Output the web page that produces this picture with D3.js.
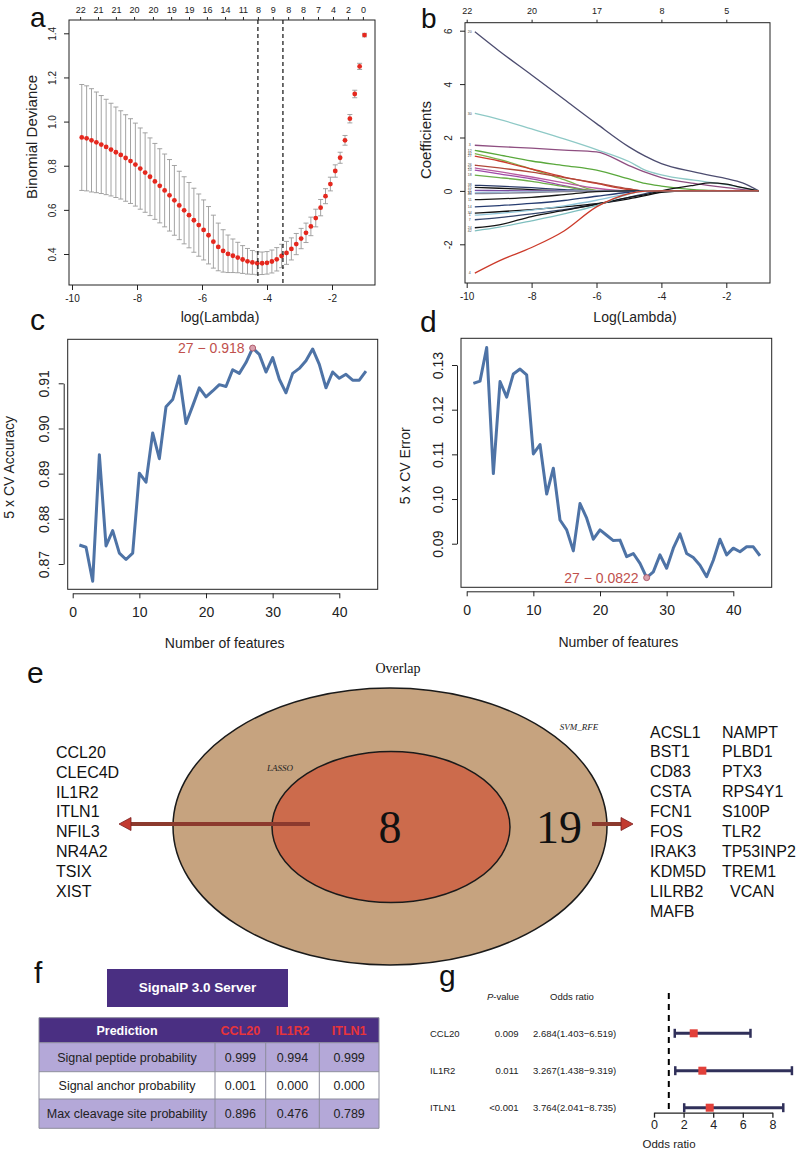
<!DOCTYPE html>
<html><head><meta charset="utf-8">
<script src="https://cdn.jsdelivr.net/npm/d3@7"></script>
<style>body{margin:0;background:#fff}svg{display:block}</style>
</head><body><svg id="fig" width="800" height="1151"></svg>
<script>
// ---------------- DATA ----------------
// (a) LASSO CV curve
const cvLogLambda = [-9.7,-9.55,-9.4,-9.25,-9.1,-8.95,-8.8,-8.65,-8.5,-8.35,-8.2,-8.05,
 -7.9,-7.75,-7.6,-7.45,-7.3,-7.15,-7.0,-6.85,-6.7,-6.55,-6.4,-6.25,
 -6.1,-5.95,-5.8,-5.65,-5.5,-5.35,-5.2,-5.05,-4.9,-4.75,-4.6,-4.45,
 -4.3,-4.15,-4.0,-3.85,-3.7,-3.55,-3.4,-3.25,-3.1,-2.95,-2.8,-2.65,
 -2.5,-2.35,-2.2,-2.05,-1.9,-1.75,-1.6,-1.45,-1.3,-1.15,-1.0];
const cvMean = [0.928,0.924,0.915,0.906,0.896,0.885,0.873,0.861,0.849,0.835,0.821,0.805,
 0.787,0.769,0.750,0.729,0.709,0.688,0.666,0.643,0.620,0.598,0.576,0.553,
 0.531,0.509,0.485,0.456,0.432,0.414,0.401,0.392,0.384,0.375,0.367,0.362,
 0.358,0.358,0.360,0.366,0.376,0.391,0.405,0.423,0.445,0.470,0.496,0.525,
 0.563,0.610,0.662,0.717,0.776,0.836,0.915,1.013,1.125,1.250,1.392];
const cvHalfWidth = [0.240,0.238,0.234,0.228,0.222,0.216,0.210,0.205,0.200,0.196,0.192,0.188,
 0.184,0.180,0.176,0.172,0.168,0.165,0.162,0.158,0.155,0.152,0.148,0.145,
 0.141,0.136,0.130,0.120,0.108,0.096,0.085,0.076,0.069,0.063,0.058,0.054,
 0.052,0.051,0.051,0.052,0.053,0.053,0.052,0.050,0.048,0.046,0.044,0.042,
 0.040,0.037,0.034,0.031,0.028,0.025,0.022,0.019,0.017,0.014,0.008];
const cvTopPos = [-9.75,-9.2,-8.65,-8.09,-7.51,-6.95,-6.4,-5.85,-5.29,-4.74,-4.28,-3.82,-3.35,-2.89,-2.43,-1.97,-1.51,-1.05];
const cvTopLab = [22,21,21,20,20,19,19,16,14,11,8,9,8,8,7,4,2,0];
const cvLambdaLines = [-4.28, -3.51];
const aXTicks = [-10,-8,-6,-4,-2];
const aYTicks = [0.4,0.6,0.8,1.0,1.2,1.4];

// (b) coefficient paths
const pathKnots = [-9.75,-9,-8,-7,-6,-5,-4.5,-4,-3,-2.5,-2,-1.5,-1];
const pathCoefs = [
 [5.96,5.24,4.34,3.43,2.52,1.65,1.30,1.02,0.71,0.58,0.46,0.30,0],
 [2.90,2.68,2.32,1.95,1.55,1.10,0.78,0.60,0.40,0.32,0.24,0.12,0],
 [1.71,1.66,1.60,1.53,1.46,0.95,0.70,0.50,0.28,0.20,0.12,0.05,0],
 [1.52,1.35,1.12,0.95,0.78,0.45,0.28,0.18,0.05,0.02,0,0,0],
 [1.40,1.18,0.82,0.42,0.02,0,0,0,0,0,0,0,0],
 [1.30,1.12,0.82,0.52,0.28,0.05,0,0,0,0,0,0,0],
 [0.96,0.86,0.70,0.50,0.30,0.08,0,0,0,0,0,0,0],
 [0.86,0.72,0.52,0.30,0.10,0,0,0,0,0,0,0,0],
 [0.78,0.64,0.45,0.20,0,0,0,0,0,0,0,0,0],
 [0.59,0.50,0.36,0.16,0,0,0,0,0,0,0,0,0],
 [0.21,0.18,0.12,0.05,0,0,0,0,0,0,0,0,0],
 [0.13,0.10,0.05,0,0,0,0,0,0,0,0,0,0],
 [0.02,0.01,0,0,0,0,0,0,0,0,0,0,0],
 [-0.06,-0.05,-0.03,-0.01,0,0,0,0,0,0,0,0,0],
 [-0.10,-0.09,-0.06,-0.03,0,0,0,0,0,0,0,0,0],
 [-0.33,-0.30,-0.24,-0.14,-0.03,0,0,0,0,0,0,0,0],
 [-0.60,-0.55,-0.47,-0.36,-0.20,-0.05,0,0,0,0,0,0,0],
 [-0.83,-0.78,-0.70,-0.60,-0.48,-0.30,-0.18,-0.05,0,0,0,0,0],
 [-0.91,-0.84,-0.72,-0.56,-0.35,-0.10,-0.02,0,0,0,0,0,0],
 [-1.08,-1.00,-0.86,-0.70,-0.50,-0.24,-0.10,0,0,0,0,0,0],
 [-1.38,-1.27,-0.96,-0.73,-0.50,-0.24,-0.14,0,0.21,0.30,0.25,0.12,0],
 [-1.50,-1.36,-1.12,-0.86,-0.55,-0.12,0,0,0,0,0,0,0],
 [-3.08,-2.62,-2.12,-1.50,-0.60,-0.10,-0.01,0,0,0,0,0,0]
];
const pathLabels = ["20","30","3","12","37","27","26","25","10","18","38","15","21","32","40","11","14","34","1","7","24","42","4"];
const pathColors = ["#4d4d70","#8ec9c6","#8e4e80","#5aa83c","#7fb54d","#cc3b2e","#b0483a","#b85aa0","#a04aa8","#6cae4a",
 "#2a3a66","#111111","#7a4aa0","#9ec3e0","#888899","#1a1a1a","#263c70","#101010","#8fc4d8","#34476e","#151515","#7fbfbf","#cc3a2a"];
const bTopPos = [-10,-8,-6,-4,-2];
const bTopLab = [22,20,17,8,5];
const bXTicks = [-10,-8,-6,-4,-2];
const bYTicks = [-2,0,2,4,6];

// (c),(d) SVM-RFE
const nFeatures = [1,2,3,4,5,6,7,8,9,10,11,12,13,14,15,16,17,18,19,20,21,22,23,24,25,26,27,28,29,30,31,32,33,34,35,36,37,38,39,40,41,42,43,44];
const cvAccuracy = [0.8742,0.8737,0.8662,0.8942,0.8740,0.8774,0.8724,0.8710,0.8724,0.8901,
 0.8881,0.8990,0.8933,0.9048,0.9064,0.9116,0.9011,0.9050,0.9090,0.9070,
 0.9083,0.9097,0.9093,0.9130,0.9122,0.9146,0.9178,0.9164,0.9125,0.9157,
 0.9109,0.9079,0.9122,0.9133,0.9150,0.9176,0.9142,0.9090,0.9125,0.9111,
 0.9120,0.9107,0.9107,0.9127];
const cvError = [0.1259,0.1264,0.1339,0.1057,0.1263,0.1228,0.1280,0.1291,0.1278,0.1101,
 0.1122,0.1011,0.1069,0.0953,0.0931,0.0884,0.0990,0.0957,0.0910,0.0931,
 0.0919,0.0907,0.0908,0.0871,0.0878,0.0856,0.0824,0.0837,0.0875,0.0845,
 0.0890,0.0922,0.0878,0.0869,0.0852,0.0826,0.0863,0.0910,0.0875,0.0890,
 0.0882,0.0893,0.0893,0.0873];
const bestN = 27;
const accLabel = "27 \u2212 0.918";
const errLabel = "27 \u2212 0.0822";
const featTicks = [0,10,20,30,40];
const accTicks = [0.87,0.88,0.89,0.90,0.91];
const errTicks = [0.09,0.10,0.11,0.12,0.13];

// (e) Venn
const vennTitle = "Overlap";
const vennSets = ["SVM_RFE","LASSO"];
const vennCounts = [19, 8];
const lassoOnlyGenes = ["CCL20","CLEC4D","IL1R2","ITLN1","NFIL3","NR4A2","TSIX","XIST"];
const svmGenesCol1 = ["ACSL1","BST1","CD83","CSTA","FCN1","FOS","IRAK3","KDM5D","LILRB2","MAFB"];
const svmGenesCol2 = ["NAMPT","PLBD1","PTX3","RPS4Y1","S100P","TLR2","TP53INP2","TREM1","VCAN"];

// (f) SignalP
const signalTitle = "SignalP 3.0 Server";
const signalCols = ["Prediction","CCL20","IL1R2","ITLN1"];
const signalRows = ["Signal peptide probability","Signal anchor probability","Max cleavage site probability"];
const signalValues = [["0.999","0.994","0.999"],["0.001","0.000","0.000"],["0.896","0.476","0.789"]];

// (g) forest
const orGenes = ["CCL20","IL1R2","ITLN1"];
const orPvalues = ["0.009","0.011","<0.001"];
const orText = ["2.684(1.403\u22126.519)","3.267(1.438\u22129.319)","3.764(2.041\u22128.735)"];
const orEst = [2.684,3.267,3.764];
const orLow = [1.403,1.438,2.041];
const orHigh = [6.519,9.319,8.735];
const orTicks = [0,2,4,6,8];

// ---------------- DRAW ----------------
const F = '"Liberation Sans", Arial, Helvetica, sans-serif';
const SERIF = '"Liberation Serif", "Times New Roman", serif';
const svg = d3.select("#fig");

function T(x, y, s, o = {}) {
  const t = svg.append("text").attr("x", x).attr("y", y).text(s)
    .attr("font-family", o.ff || F).attr("font-size", o.fs || 12)
    .attr("fill", o.fill || "#111").attr("text-anchor", o.anchor || "start");
  if (o.bold) t.attr("font-weight", "bold");
  if (o.italic) t.attr("font-style", "italic");
  if (o.rot) t.attr("transform", `rotate(${o.rot},${x},${y})`);
  return t;
}
function styleAxis(g, fs) {
  g.attr("font-family", F).attr("font-size", fs);
  g.selectAll("text").attr("fill", "#222");
  g.selectAll("line,path").attr("stroke", "#222");
}
function rotY(g, d) {
  g.selectAll(".tick text").attr("transform", "rotate(-90)").attr("x", 0).attr("y", -d).attr("dy", "0").attr("text-anchor", "middle");
}
function box(b) {
  svg.append("rect").attr("x", b.l).attr("y", b.t).attr("width", b.r - b.l).attr("height", b.b - b.t)
    .attr("fill", "none").attr("stroke", "#222").attr("stroke-width", 1);
}
const fmt = d => String(d);

// ----- panel a -----
{
  const B = {l:69, r:375, t:20, b:285};
  const x = d3.scaleLinear().domain([-10,-2]).range([72,332]);
  const y = d3.scaleLinear().domain([0.4,1.4]).range([254,33.3]);
  const g = svg.append("g");
  cvLogLambda.forEach((lx, i) => {
    const cx = x(lx), lo = y(cvMean[i] - cvHalfWidth[i]), hi = y(cvMean[i] + cvHalfWidth[i]);
    g.append("line").attr("x1", cx).attr("x2", cx).attr("y1", lo).attr("y2", hi).attr("stroke", "#9a9a9a").attr("stroke-width", 0.9);
    g.append("line").attr("x1", cx - 2.5).attr("x2", cx + 2.5).attr("y1", lo).attr("y2", lo).attr("stroke", "#9a9a9a").attr("stroke-width", 0.9);
    g.append("line").attr("x1", cx - 2.5).attr("x2", cx + 2.5).attr("y1", hi).attr("y2", hi).attr("stroke", "#9a9a9a").attr("stroke-width", 0.9);
  });
  cvLogLambda.forEach((lx, i) => {
    g.append("circle").attr("cx", x(lx)).attr("cy", y(cvMean[i])).attr("r", 2.4).attr("fill", "#e5281e");
  });
  cvLambdaLines.forEach(v => {
    g.append("line").attr("x1", x(v)).attr("x2", x(v)).attr("y1", B.t).attr("y2", B.b)
      .attr("stroke", "#222").attr("stroke-width", 1.3).attr("stroke-dasharray", "4,3");
  });
  box(B);
  const ax = svg.append("g").attr("transform", `translate(0,${B.b})`)
    .call(d3.axisBottom(x).tickValues(aXTicks).tickFormat(fmt).tickSize(5).tickPadding(5).tickSizeOuter(0));
  ax.select(".domain").remove(); styleAxis(ax, 10);
  const ay = svg.append("g").attr("transform", `translate(${B.l},0)`)
    .call(d3.axisLeft(y).tickValues(aYTicks).tickFormat(d3.format(".1f")).tickSize(5).tickSizeOuter(0));
  ay.select(".domain").remove(); styleAxis(ay, 10); rotY(ay, 13);
  const at = svg.append("g").attr("transform", `translate(0,${B.t})`)
    .call(d3.axisTop(x).tickValues(cvTopPos).tickFormat((d, i) => cvTopLab[i]).tickSize(3).tickPadding(4).tickSizeOuter(0));
  at.select(".domain").remove(); styleAxis(at, 9);
  T(220, 322, "log(Lambda)", {fs: 14, anchor: "middle", fill: "#222"});
  T(37, 137, "Binomial Deviance", {fs: 15, anchor: "middle", rot: -90, fill: "#222"});
  T(30, 27, "a", {fs: 28});
}

// ----- panel b -----
{
  const B = {l:465, r:770, t:22.7, b:283};
  const x = d3.scaleLinear().domain([-10,-2]).range([466.7,726.3]);
  const y = d3.scaleLinear().domain([-2,6]).range([244.3,30.7]);
  const line = d3.line().x(d => x(d[0])).y(d => y(d[1])).curve(d3.curveMonotoneX);
  pathCoefs.forEach((vals, i) => {
    svg.append("path").attr("d", line(pathKnots.map((k, j) => [k, vals[j]])))
      .attr("fill", "none").attr("stroke", pathColors[i]).attr("stroke-width", 1.3);
  });
  pathCoefs.forEach((vals, i) => {
    T(x(pathKnots[0]) - 5, y(vals[0]) + 1.2, pathLabels[i], {fs: 3.5, anchor: "middle", fill: "#444"});
  });
  box(B);
  const ax = svg.append("g").attr("transform", `translate(0,${B.b})`)
    .call(d3.axisBottom(x).tickValues(bXTicks).tickFormat(fmt).tickSize(5).tickPadding(5).tickSizeOuter(0));
  ax.select(".domain").remove(); styleAxis(ax, 10);
  const ay = svg.append("g").attr("transform", `translate(${B.l},0)`)
    .call(d3.axisLeft(y).tickValues(bYTicks).tickFormat(fmt).tickSize(5).tickSizeOuter(0));
  ay.select(".domain").remove(); styleAxis(ay, 10); rotY(ay, 13);
  const at = svg.append("g").attr("transform", `translate(0,${B.t})`)
    .call(d3.axisTop(x).tickValues(bTopPos).tickFormat((d, i) => bTopLab[i]).tickSize(3).tickPadding(6).tickSizeOuter(0));
  at.select(".domain").remove(); styleAxis(at, 9);
  T(635, 322, "Log(Lambda)", {fs: 14, anchor: "middle", fill: "#222"});
  T(431, 140, "Coefficients", {fs: 15, anchor: "middle", rot: -90, fill: "#222"});
  T(421, 28, "b", {fs: 28});
}

// ----- panels c & d -----
function featPanel(B, xr, yDom, yr, vals, ticks, ann, ylabX, ylabel, letter, letterPos, xlabY, dLab) {
  const x = d3.scaleLinear().domain([0,40]).range(xr);
  const y = d3.scaleLinear().domain(yDom).range(yr);
  const line = d3.line().x((d, i) => x(nFeatures[i])).y(d => y(d));
  svg.append("path").attr("d", line(vals)).attr("fill", "none").attr("stroke", "#4e73a6")
    .attr("stroke-width", 3).attr("stroke-linejoin", "round");
  box(B);
  const ax = svg.append("g").attr("transform", `translate(0,${B.b + 4})`)
    .call(d3.axisBottom(x).tickValues(featTicks).tickFormat(fmt).tickSize(5).tickPadding(9).tickSizeOuter(0));
  styleAxis(ax, 14);
  const ay = svg.append("g").attr("transform", `translate(${B.l - 4},0)`)
    .call(d3.axisLeft(y).tickValues(ticks).tickFormat(d3.format(".2f")).tickSize(5).tickSizeOuter(0));
  styleAxis(ay, 14); rotY(ay, dLab);
  const bi = nFeatures.indexOf(bestN);
  const px = x(bestN), py = y(vals[bi]);
  svg.append("circle").attr("cx", px).attr("cy", py).attr("r", 3).attr("fill", "#d9a0ad").attr("stroke", "#b05c6c").attr("stroke-width", 1);
  T(px - 8, py + 5, ann, {fs: 14, anchor: "end", fill: "#c0504d"});
  T((B.l + B.r) / 2 + 2, xlabY, "Number of features", {fs: 14, anchor: "middle", fill: "#222"});
  T(ylabX, (B.t + B.b) / 2 + 3, ylabel, {fs: 14, anchor: "middle", rot: -90, fill: "#222"});
  T(letterPos[0], letterPos[1], letter, {fs: 30});
}
featPanel({l:67.7, r:377.7, t:339.3, b:589.3}, [72.7,339.3], [0.87,0.91], [564,383.3], cvAccuracy, accTicks,
  accLabel, 14, "5 x CV Accuracy", "c", [30, 330], 648, 15);
featPanel({l:461, r:771.7, t:338.3, b:587.3}, [466.7,733.3], [0.09,0.13], [543.7,365], cvError, errTicks,
  errLabel, 410, "5 x CV Error", "d", [420, 332], 647, 14);

// ----- panel e -----
{
  T(27, 683, "e", {fs: 30});
  T(398, 673, vennTitle, {fs: 14, ff: SERIF, anchor: "middle"});
  svg.append("ellipse").attr("cx", 390).attr("cy", 826.5).attr("rx", 217).attr("ry", 138.5)
    .attr("fill", "#c6a37f").attr("stroke", "#1a1a1a").attr("stroke-width", 1.5);
  svg.append("ellipse").attr("cx", 391).attr("cy", 827).attr("rx", 119).attr("ry", 75.5)
    .attr("fill", "#cc6b4c").attr("stroke", "#1a1a1a").attr("stroke-width", 1.5);
  T(579, 730, vennSets[0], {fs: 9, ff: SERIF, italic: true, anchor: "middle", fill: "#222"});
  T(280, 771, vennSets[1], {fs: 9, ff: SERIF, italic: true, anchor: "middle", fill: "#222"});
  svg.append("line").attr("x1", 310).attr("x2", 128).attr("y1", 824).attr("y2", 824).attr("stroke", "#8c3a2e").attr("stroke-width", 4);
  svg.append("path").attr("d", "M119,824 L131,817.5 L131,830.5 Z").attr("fill", "#c23a30").attr("stroke", "#7a2020").attr("stroke-width", 0.8);
  svg.append("line").attr("x1", 592).attr("x2", 624).attr("y1", 824).attr("y2", 824).attr("stroke", "#8c3a2e").attr("stroke-width", 4);
  svg.append("path").attr("d", "M633,824 L621,817.5 L621,830.5 Z").attr("fill", "#c23a30").attr("stroke", "#7a2020").attr("stroke-width", 0.8);
  T(390, 843, String(vennCounts[1]), {fs: 46, ff: SERIF, anchor: "middle", fill: "#111"});
  T(559, 843, String(vennCounts[0]), {fs: 46, ff: SERIF, anchor: "middle", fill: "#111"});
  lassoOnlyGenes.forEach((gname, i) => T(56, 758 + i * 19.8, gname, {fs: 16, fill: "#111"}));
  svmGenesCol1.forEach((gname, i) => T(650, 737.5 + i * 19.9, gname, {fs: 16, fill: "#111"}));
  svmGenesCol2.forEach((gname, i) => T(gname === "VCAN" ? 730 : 722, 737.5 + i * 19.9, gname, {fs: 16, fill: "#111"}));
}

// ----- panel f -----
{
  T(34, 983, "f", {fs: 30});
  svg.append("rect").attr("x", 107).attr("y", 969).attr("width", 181).attr("height", 38).attr("fill", "#4a2f82");
  T(197.5, 992, signalTitle, {fs: 13.5, bold: true, anchor: "middle", fill: "#fff"});
  const xs = [39, 215, 265.7, 319.3, 379];
  const ys = [1017.7, 1042.7, 1071.7, 1099, 1128.3];
  const rowFill = ["#4a2f82", "#b4a8d8", "#ffffff", "#b4a8d8"];
  ys.slice(0, 4).forEach((y0, r) => {
    svg.append("rect").attr("x", xs[0]).attr("y", y0).attr("width", xs[4] - xs[0]).attr("height", ys[r + 1] - y0).attr("fill", rowFill[r]);
  });
  for (let r = 0; r <= 4; r++) svg.append("line").attr("x1", xs[0]).attr("x2", xs[4]).attr("y1", ys[r]).attr("y2", ys[r]).attr("stroke", "#8c8c9c").attr("stroke-width", 1);
  for (let c = 0; c <= 4; c++) svg.append("line").attr("x1", xs[c]).attr("x2", xs[c]).attr("y1", c === 0 || c === 4 ? ys[0] : ys[1]).attr("y2", ys[4]).attr("stroke", "#8c8c9c").attr("stroke-width", 1);
  signalCols.forEach((c, i) => {
    T((xs[i] + xs[i + 1]) / 2, 1034.5, c, {fs: 12.5, bold: true, anchor: "middle", fill: i === 0 ? "#fff" : "#e8343a"});
  });
  signalRows.forEach((rname, r) => {
    const yc = (ys[r + 1] + ys[r + 2]) / 2 + 4.5;
    T((xs[0] + xs[1]) / 2, yc, rname, {fs: 12.5, anchor: "middle", fill: "#222"});
    signalValues[r].forEach((v, c) => T((xs[c + 1] + xs[c + 2]) / 2, yc, v, {fs: 12.5, anchor: "middle", fill: "#222"}));
  });
}

// ----- panel g -----
{
  T(439, 986, "g", {fs: 30});
  const hp = T(503, 1000, "", {fs: 9.5, anchor: "middle", fill: "#222"});
  hp.append("tspan").attr("font-style", "italic").text("P");
  hp.append("tspan").text("-value");
  T(572, 1000, "Odds ratio", {fs: 9.5, anchor: "middle", fill: "#222"});
  const x = d3.scaleLinear().domain([0,8]).range([654, 772.4]);
  const rowY = [1033.3, 1070.7, 1107.7];
  svg.append("line").attr("x1", x(1)).attr("x2", x(1)).attr("y1", 993).attr("y2", 1112.7)
    .attr("stroke", "#000").attr("stroke-width", 2).attr("stroke-dasharray", "6,5");
  orGenes.forEach((gname, i) => {
    const yy = rowY[i];
    T(430, yy + 3.5, gname, {fs: 9.5, fill: "#222"});
    T(518.5, yy + 3.5, orPvalues[i], {fs: 9.5, anchor: "end", fill: "#222"});
    T(533, yy + 3.5, orText[i], {fs: 9.5, fill: "#222"});
    svg.append("line").attr("x1", x(orLow[i])).attr("x2", x(orHigh[i])).attr("y1", yy).attr("y2", yy).attr("stroke", "#30305a").attr("stroke-width", 3);
    [orLow[i], orHigh[i]].forEach(v => svg.append("line").attr("x1", x(v)).attr("x2", x(v)).attr("y1", yy - 4.5).attr("y2", yy + 4.5).attr("stroke", "#30305a").attr("stroke-width", 2.5));
    svg.append("rect").attr("x", x(orEst[i]) - 4).attr("y", yy - 4).attr("width", 8).attr("height", 8).attr("fill", "#e2403a");
  });
  const ax = svg.append("g").attr("transform", "translate(0,1112.7)")
    .call(d3.axisBottom(x).tickValues(orTicks).tickFormat(fmt).tickSize(5).tickPadding(2).tickSizeOuter(0));
  styleAxis(ax, 12.5);
  ax.selectAll("line,path").attr("stroke-width", 1.3);
  T(669, 1148, "Odds ratio", {fs: 11.5, anchor: "middle", fill: "#222"});
}
</script></body></html>
